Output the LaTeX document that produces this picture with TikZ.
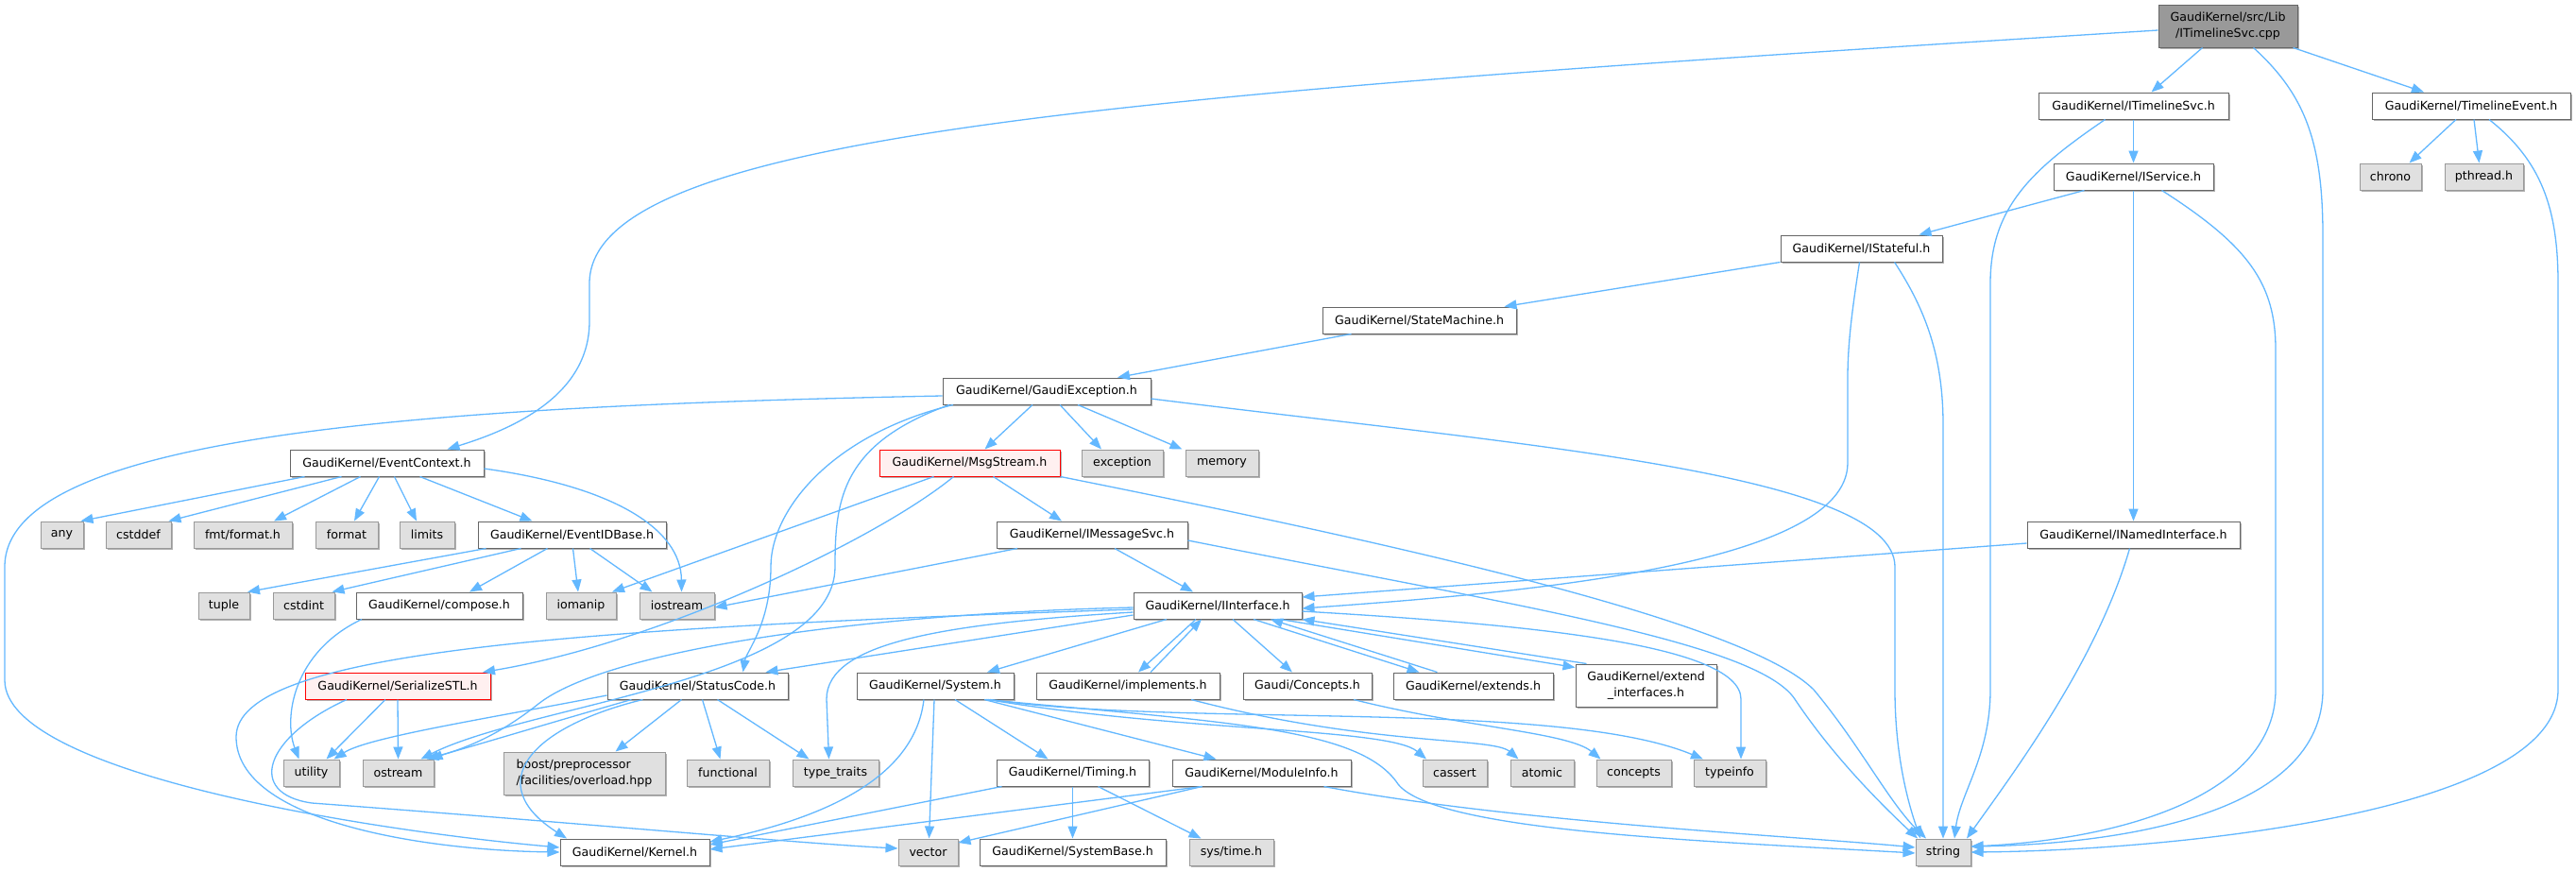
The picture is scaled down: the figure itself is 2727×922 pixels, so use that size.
\documentclass[tikz,border=0pt]{standalone}
\usepackage{fontspec}
\setmainfont{DejaVu Sans}
\usetikzlibrary{arrows.meta,shadows}
\definecolor{cEdge}{HTML}{63B8FF}
\definecolor{cBord}{HTML}{666666}
\definecolor{cGrayB}{HTML}{999999}
\definecolor{cGrayF}{HTML}{E0E0E0}
\definecolor{cRoot}{HTML}{999999}
\definecolor{cRedF}{HTML}{FFF0F0}
\definecolor{cRedB}{HTML}{FF0000}
\newcommand\nodefont{\fontsize{12.6bp}{17bp}\selectfont}
\tikzset{
  box/.style={draw=cBord, fill=white, line width=1bp, inner sep=0pt,
    minimum height=28bp, font=\nodefont, align=center,
    drop shadow={shadow xshift=1.5bp, shadow yshift=-1.5bp, fill=black!30, opacity=1}},
  sysbox/.style={box, draw=cGrayB, fill=cGrayF},
  redbox/.style={box, draw=cRedB, fill=cRedF},
  rootbox/.style={box, fill=cRoot, minimum height=45bp},
  edge/.style={draw=cEdge, line width=1.3bp, -{Triangle[length=13bp,width=10bp]}}
}
\begin{document}
\begin{tikzpicture}[x=1bp,y=-1bp]
\useasboundingbox (0,0) rectangle (2727,922);
\fill[white] (0,0) rectangle (2727,922);
% nodes
\node[rootbox, minimum width=147bp] (nroot) at (2358.5,27.5) {GaudiKernel/src/Lib\\/ITimelineSvc.cpp};
\node[box, minimum width=201bp] (nITL) at (2258.5,112) {GaudiKernel/ITimelineSvc.h};
\node[box, minimum width=210bp] (nTEv) at (2616,112) {GaudiKernel/TimelineEvent.h};
\node[box, minimum width=169bp] (nISvc) at (2258.5,187) {GaudiKernel/IService.h};
\node[sysbox, minimum width=65bp] (nchrono) at (2530.5,187) {chrono};
\node[sysbox, minimum width=83bp] (npthread) at (2629.5,187) {pthread.h};
\node[box, minimum width=171bp] (nIStateful) at (1970.5,263) {GaudiKernel/IStateful.h};
\node[box, minimum width=205bp] (nSM) at (1502.5,339) {GaudiKernel/StateMachine.h};
\node[box, minimum width=220bp] (nGE) at (1108,414) {GaudiKernel/GaudiException.h};
\node[box, minimum width=205bp] (nEC) at (409.5,490) {GaudiKernel/EventContext.h};
\node[redbox, minimum width=191bp] (nMS) at (1026.5,490) {GaudiKernel/MsgStream.h};
\node[sysbox, minimum width=86bp] (nexception) at (1188,490) {exception};
\node[sysbox, minimum width=77bp] (nmemory) at (1293.5,490) {memory};
\node[sysbox, minimum width=45bp] (nany) at (65.5,566) {any};
\node[sysbox, minimum width=69bp] (ncstddef) at (146.5,566) {cstddef};
\node[sysbox, minimum width=104bp] (nfmt) at (257,566) {fmt/format.h};
\node[sysbox, minimum width=66bp] (nformat) at (367,566) {format};
\node[sysbox, minimum width=58bp] (nlimits) at (452,566) {limits};
\node[box, minimum width=199bp] (nEIDB) at (605.5,566) {GaudiKernel/EventIDBase.h};
\node[box, minimum width=202bp] (nIMS) at (1156,566) {GaudiKernel/IMessageSvc.h};
\node[box, minimum width=225bp] (nINI) at (2258.5,566) {GaudiKernel/INamedInterface.h};
\node[sysbox, minimum width=54bp] (ntuple) at (237,641) {tuple};
\node[sysbox, minimum width=65bp] (ncstdint) at (321.5,641) {cstdint};
\node[box, minimum width=176bp] (ncompose) at (465,641) {GaudiKernel/compose.h};
\node[sysbox, minimum width=74bp] (niomanip) at (615,641) {iomanip};
\node[sysbox, minimum width=79bp] (niostream) at (716.5,641) {iostream};
\node[box, minimum width=178bp] (nII) at (1289,641) {GaudiKernel/IInterface.h};
\node[redbox, minimum width=196bp] (nSSTL) at (421,726) {GaudiKernel/SerializeSTL.h};
\node[box, minimum width=191bp] (nSC) at (738.5,726) {GaudiKernel/StatusCode.h};
\node[box, minimum width=166bp] (nSys) at (990,726) {GaudiKernel/System.h};
\node[box, minimum width=194bp] (nimpl) at (1194,726) {GaudiKernel/implements.h};
\node[box, minimum width=136bp] (nConcepts) at (1384,726) {Gaudi/Concepts.h};
\node[box, minimum width=169bp] (nextends) at (1559.5,726) {GaudiKernel/extends.h};
\node[box, minimum width=149bp, minimum height=45bp] (nextif) at (1742.5,725.5) {GaudiKernel/extend\\\_interfaces.h};
\node[sysbox, minimum width=59bp] (nutility) at (329.5,818) {utility};
\node[sysbox, minimum width=75bp] (nostream) at (421.5,818) {ostream};
\node[sysbox, minimum width=171bp, minimum height=45bp, align=left] (nboost) at (618.5,818.5) {boost/preprocessor\\/facilities/overload.hpp};
\node[sysbox, minimum width=87bp] (nfunctional) at (770.5,818) {functional};
\node[sysbox, minimum width=91bp] (ntypetraits) at (884.5,818) {type\_traits};
\node[box, minimum width=161bp] (nTiming) at (1135.5,818) {GaudiKernel/Timing.h};
\node[box, minimum width=189bp] (nModuleInfo) at (1335.5,818) {GaudiKernel/ModuleInfo.h};
\node[sysbox, minimum width=68bp] (ncassert) at (1540,818) {cassert};
\node[sysbox, minimum width=67bp] (natomic) at (1632.5,818) {atomic};
\node[sysbox, minimum width=79bp] (nconcepts) at (1729.5,818) {concepts};
\node[sysbox, minimum width=76bp] (ntypeinfo) at (1831,818) {typeinfo};
\node[box, minimum width=158bp] (nKernel) at (672,902) {GaudiKernel/Kernel.h};
\node[sysbox, minimum width=63bp] (nvector) at (982.5,902) {vector};
\node[box, minimum width=197bp] (nSysBase) at (1135.5,902) {GaudiKernel/SystemBase.h};
\node[sysbox, minimum width=89bp] (nsystime) at (1303.5,902) {sys/time.h};
\node[sysbox, minimum width=58bp] (nstring) at (2057,902) {string};
% edges from root
\draw[edge] ([yshift=-4.5bp]nroot.west) .. controls (1200,100) and (624,140) .. (624,300) -- (624,340) .. controls (624,420) and (540,455) .. ([xshift=64bp]nEC.north);
\draw[edge] ([xshift=-27bp]nroot.south) -- ([xshift=19bp]nITL.north);
\draw[edge] ([xshift=27bp]nroot.south) .. controls (2440,100) and (2459,150) .. (2459,250) -- (2459,730) .. controls (2459,860) and (2250,893) .. ([yshift=6bp]nstring.east);
\draw[edge] ([xshift=69bp]nroot.south) -- ([xshift=-50bp]nTEv.north);
% ITimelineSvc / TimelineEvent
\draw[edge] (nITL.south) -- (nISvc.north);
\draw[edge] ([xshift=-30bp]nITL.south) .. controls (2150,180) and (2107,220) .. (2107,300) -- (2107,730) .. controls (2107,800) and (2075,840) .. ([xshift=12bp]nstring.north);
\draw[edge] ([xshift=-16bp]nTEv.south) -- ([xshift=20bp]nchrono.north);
\draw[edge] ([xshift=3bp]nTEv.south) -- ([xshift=-5bp]npthread.north);
\draw[edge] ([xshift=19bp]nTEv.south) .. controls (2690,170) and (2708,220) .. (2708,300) -- (2708,730) .. controls (2708,860) and (2300,900) .. (nstring.east);
% IService
\draw[edge] ([xshift=-52bp]nISvc.south) -- ([xshift=61bp]nIStateful.north);
\draw[edge] (nISvc.south) -- (nINI.north);
\draw[edge] ([xshift=30bp]nISvc.south) .. controls (2380,260) and (2409,300) .. (2409,370) -- (2409,730) .. controls (2409,840) and (2250,888) .. ([yshift=6bp]nstring.east);
% IStateful
\draw[edge] (nIStateful.south west) -- ([xshift=90bp]nSM.north);
\draw[edge] ([xshift=-2bp]nIStateful.south) .. controls (1962,320) and (1956,360) .. (1956,400) -- (1956,490) .. controls (1956,600) and (1600,628) .. ([yshift=-3bp]nII.east);
\draw[edge] ([xshift=35bp]nIStateful.south) .. controls (2040,330) and (2057,380) .. (2057,450) -- (nstring.north);
% StateMachine
\draw[edge] ([xshift=-72bp]nSM.south) -- ([xshift=75bp]nGE.north);
% GaudiException
\draw[edge] ([yshift=-5bp]nGE.west) .. controls (450,430) and (5,460) .. (5,600) -- (5,720) .. controls (5,820) and (400,880) .. ([yshift=5bp]nKernel.west);
\draw[edge] ([xshift=-15bp]nGE.south) -- ([xshift=16bp]nMS.north);
\draw[edge] ([xshift=14bp]nGE.south) -- ([xshift=-22bp]nexception.north);
\draw[edge] ([xshift=33bp]nGE.south) -- ([xshift=-42bp]nmemory.north);
\draw[edge] ([yshift=-8bp]nGE.east) .. controls (1600,470) and (2006,500) .. (2006,600) -- (2006,730) .. controls (2006,800) and (2020,850) .. ([xshift=-24bp]nstring.north);
\draw[edge] ([xshift=-99bp]nGE.south) .. controls (880,460) and (816,540) .. (816,600) .. controls (816,660) and (790,690) .. ([xshift=48bp]nSC.north);
\draw[edge] ([xshift=-103bp]nGE.south) .. controls (890,470) and (884,530) .. (884,600) .. controls (884,720) and (560,745) .. ([xshift=24bp]nostream.north);
% EventContext
\draw[edge] ([xshift=-87bp]nEC.south) -- ([xshift=20bp]nany.north);
\draw[edge] ([xshift=-48bp]nEC.south) -- ([xshift=32bp]ncstddef.north);
\draw[edge] ([xshift=-28bp]nEC.south) -- ([xshift=33bp]nfmt.north);
\draw[edge] ([xshift=-8bp]nEC.south) -- ([xshift=8bp]nformat.north);
\draw[edge] ([xshift=8bp]nEC.south) -- ([xshift=-11bp]nlimits.north);
\draw[edge] ([xshift=35bp]nEC.south) -- ([xshift=-42bp]nEIDB.north);
\draw[edge] ([yshift=-6bp]nEC.east) .. controls (650,515) and (721,560) .. ([xshift=5bp]niostream.north);
% EventIDBase
\draw[edge] ([xshift=-91bp]nEIDB.south) -- ([xshift=25bp]ntuple.north);
\draw[edge] ([xshift=-54bp]nEIDB.south) -- ([xshift=30bp]ncstdint.north);
\draw[edge] ([xshift=-26bp]nEIDB.south) -- ([xshift=32bp]ncompose.north);
\draw[edge] ([xshift=1bp]nEIDB.south) -- ([xshift=-3bp]niomanip.north);
\draw[edge] ([xshift=19bp]nEIDB.south) -- ([xshift=-26bp]niostream.north);
\draw[edge] ([xshift=-82bp]ncompose.south) .. controls (310,690) and (300,760) .. ([xshift=-13bp]nutility.north);
% MsgStream
\draw[edge] ([xshift=-38bp]nMS.south) -- ([xshift=33bp]niomanip.north);
\draw[edge] ([xshift=-17bp]nMS.south) .. controls (930,570) and (700,680) .. ([xshift=90bp]nSSTL.north);
\draw[edge] ([xshift=25bp]nMS.south) -- ([xshift=-32bp]nIMS.north);
\draw[edge] (nMS.south east) .. controls (1500,580) and (1850,660) .. (1920,730) .. controls (1970,790) and (2000,850) .. ([xshift=-18bp]nstring.north);
% IMessageSvc
\draw[edge] ([xshift=-79bp]nIMS.south) -- ([yshift=-2bp]niostream.east);
\draw[edge] ([xshift=24bp]nIMS.south) -- ([xshift=-26bp]nII.north);
\draw[edge] ([yshift=-6bp]nIMS.east) .. controls (1600,640) and (1860,680) .. (1900,740) .. controls (1940,800) and (1990,850) .. ([xshift=-27bp]nstring.north);
% INamedInterface
\draw[edge] ([yshift=-9bp]nINI.west) -- ([yshift=9bp]nII.east);
\draw[edge] ([xshift=-4bp]nINI.south) .. controls (2220,700) and (2130,820) .. ([xshift=25bp]nstring.north);
% IInterface
\draw[edge] ([yshift=-4bp]nII.west) .. controls (600,665) and (250,690) .. (250,780) .. controls (250,870) and (450,900) .. (nKernel.west);
\draw[edge] ([yshift=-10bp]nII.west) -- ([xshift=72bp]nSC.north);
\draw[edge] ([xshift=-54bp]nII.south) -- ([xshift=55bp]nSys.north);
\draw[edge] ([xshift=-23bp]nII.south) -- ([xshift=11bp]nimpl.north);
\draw[edge] ([xshift=24bp]nimpl.north) -- ([xshift=-17bp]nII.south);
\draw[edge] ([xshift=16bp]nII.south) -- ([xshift=-16bp]nConcepts.north);
\draw[edge] ([xshift=38bp]nII.south) -- ([xshift=-57bp]nextends.north);
\draw[edge] ([xshift=-38bp]nextends.north) -- ([xshift=56bp]nII.south);
\draw[edge] ([xshift=66bp]nII.south) -- ([yshift=-4bp]nextif.north west);
\draw[edge] ([xshift=12bp]nextif.north west) -- (nII.south east);
\draw[edge] ([yshift=-7bp]nII.west) .. controls (1000,660) and (875,680) .. (875,740) -- ([xshift=-7bp]ntypetraits.north);
\draw[edge] ([yshift=-6bp]nII.east) .. controls (1600,660) and (1843,680) .. (1843,740) -- ([xshift=12bp]ntypeinfo.north);
\draw[edge] ([yshift=-2bp]nII.west) .. controls (900,650) and (640,690) .. (570,745) .. controls (520,785) and (480,795) .. ([xshift=34bp]nostream.north);
% StatusCode
\draw[edge] ([yshift=-10bp]nSC.west) .. controls (520,760) and (390,780) .. ([xshift=24bp]nutility.north);
\draw[edge] ([xshift=-70bp]nSC.south) .. controls (600,760) and (500,790) .. ([xshift=30bp]nostream.north);
\draw[edge] ([xshift=-58bp]nSC.south) .. controls (560,770) and (510,830) .. ([xshift=-72bp]nKernel.north);
\draw[edge] ([xshift=-17bp]nSC.south) -- ([xshift=33bp]nboost.north);
\draw[edge] ([xshift=5bp]nSC.south) -- ([xshift=-8bp]nfunctional.north);
\draw[edge] ([xshift=21bp]nSC.south) -- ([xshift=-28bp]ntypetraits.north);
% SerializeSTL
\draw[edge] ([xshift=-13bp]nSSTL.south) -- ([xshift=16bp]nutility.north);
\draw[edge] (nSSTL.south) -- (nostream.north);
\draw[edge] ([xshift=-54bp]nSSTL.south) .. controls (280,780) and (260,840) .. (330,850) .. controls (600,870) and (850,893) .. ([yshift=4bp]nvector.west);
% System
\draw[edge] ([xshift=-1bp]nSys.south) -- ([xshift=1bp]nvector.north);
\draw[edge] ([xshift=-12bp]nSys.south) .. controls (970,810) and (900,860) .. ([yshift=11bp]nKernel.east);
\draw[edge] ([xshift=21bp]nSys.south) -- ([xshift=-26bp]nTiming.north);
\draw[edge] ([xshift=52bp]nSys.south) -- ([xshift=-48bp]nModuleInfo.north);
\draw[edge] ([xshift=56bp]nSys.south) .. controls (1250,775) and (1470,770) .. ([xshift=-30bp]ncassert.north);
\draw[edge] ([xshift=58bp]nSys.south) .. controls (1250,770) and (1650,740) .. ([xshift=-28bp]ntypeinfo.north);
\draw[edge] ([xshift=54bp]nSys.south) .. controls (1300,765) and (1440,770) .. (1480,830) .. controls (1520,880) and (1800,890) .. ([yshift=-1bp]nstring.west);
% implements, Concepts
\draw[edge] ([xshift=67bp]nimpl.south) .. controls (1450,790) and (1580,780) .. ([xshift=-25bp]natomic.north);
\draw[edge] ([xshift=49bp]nConcepts.south) .. controls (1550,770) and (1660,775) .. ([xshift=-35bp]nconcepts.north);
% Timing, ModuleInfo
\draw[edge] ([xshift=-75bp]nTiming.south) -- ([yshift=8bp]nKernel.east);
\draw[edge] (nTiming.south) -- (nSysBase.north);
\draw[edge] ([xshift=27bp]nTiming.south) -- ([xshift=-32bp]nsystime.north);
\draw[edge] ([xshift=-63bp]nModuleInfo.south) -- ([yshift=3bp]nKernel.east);
\draw[edge] ([xshift=-63bp]nModuleInfo.south) -- ([yshift=10bp]nvector.east);
\draw[edge] ([xshift=66bp]nModuleInfo.south) .. controls (1600,870) and (1900,885) .. ([yshift=5bp]nstring.west);
\end{tikzpicture}
\end{document}
